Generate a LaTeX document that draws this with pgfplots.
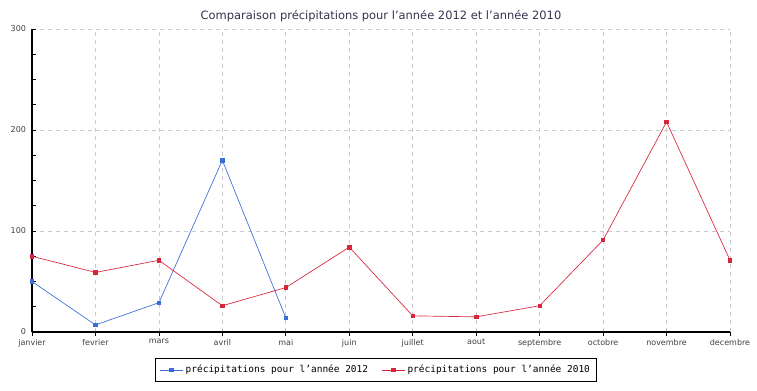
\documentclass[border=0pt]{standalone}
\usepackage{pgfplots}
\pgfplotsset{compat=1.18}
\usepackage{fontspec}
\setmainfont{DejaVu Sans}
\newfontfamily\monofont{DejaVu Sans Mono}
\definecolor{serblue}{RGB}{58,110,215}
\definecolor{serred}{RGB}{215,38,60}
\definecolor{titlecol}{RGB}{50,50,80}
\definecolor{gridcol}{RGB}{200,200,210}
\begin{document}
\begin{tikzpicture}
\useasboundingbox (0,0) rectangle (567.75pt,292.5pt);
\begin{axis}[
  at={(24pt,43.5pt)}, anchor=south west,
  scale only axis, width=523.5pt, height=227.25pt,
  xmin=0, xmax=11, ymin=0, ymax=300,
  axis lines=left, axis line style={-, black, line width=0.8pt},
  xtick={0,...,11},
  xticklabels={janvier,fevrier,mars,avril,mai,juin,juillet,aout,septembre,octobre,novembre,decembre},
  ytick={0,100,200,300},
  minor y tick num=3,
  ytick align=inside,
  xtick align=outside,
  major tick length=3pt, minor tick length=3pt,
  tick style={black, line width=0.6pt},
  /pgf/number format/assume math mode=true,
  ticklabel style={font=\fontsize{6}{7}\selectfont, text=black!75},
  xticklabel style={yshift=1pt},
  yticklabel style={xshift=-1pt},
  grid=major,
  major grid style={gridcol, dashed, line width=0.5pt},
  title={Comparaison précipitations pour l'année 2012 et l'année 2010},
  title style={font=\fontsize{8.6}{10}\selectfont, text=titlecol, yshift=-4pt},
  legend columns=2,
  legend style={at={(0.493,-0.125)}, anchor=center, font=\monofont\fontsize{7.1}{9}\selectfont,
    draw=black, line width=0.6pt, inner xsep=3pt, inner ysep=3pt,
    /tikz/every even column/.append style={column sep=8pt}},
  legend image post style={line width=0.5pt},
]
\addplot[serblue, line width=0.5pt, mark=square*, mark size=1.3pt, mark options={solid}] coordinates {
 (0,50) (1,7) (2,29) (3,170) (4,14)};
\addlegendentry{précipitations pour l’année 2012}
\addplot[serred, line width=0.5pt, mark=square*, mark size=1.3pt, mark options={solid}] coordinates {
 (0,75) (1,59) (2,71) (3,26) (4,44) (5,84) (6,16) (7,15) (8,26) (9,91) (10,208) (11,71)};
\addlegendentry{précipitations pour l’année 2010}
\end{axis}
\end{tikzpicture}
\end{document}
